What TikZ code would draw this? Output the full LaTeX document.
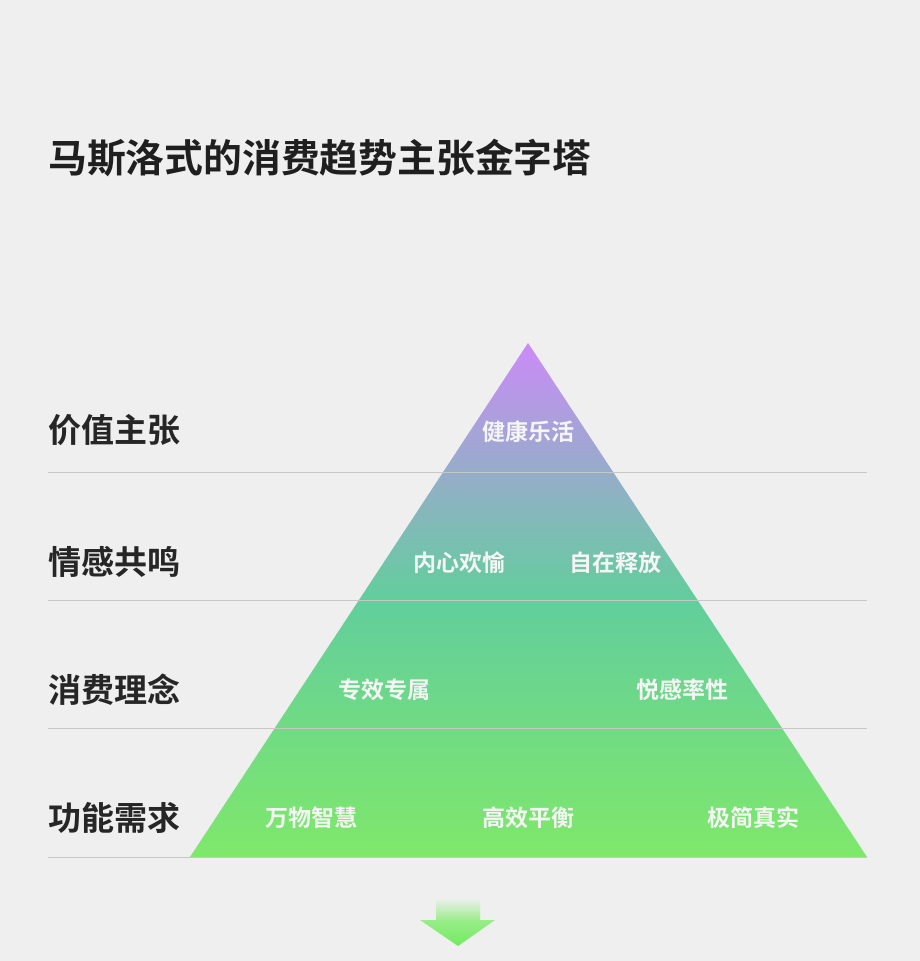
\documentclass[tikz,border=0pt]{standalone}
\usepackage{fontspec}
\setmainfont{Noto Sans CJK SC}
\newfontfamily\cjkb{Noto Sans CJK SC Bold}
\begin{document}
\begin{tikzpicture}[x=1pt,y=-1pt,
  lab/.style={anchor=west,font=\cjkb\fontsize{33}{36}\selectfont,text=black!85,inner sep=0},
  pt/.style={font=\cjkb\fontsize{23}{26}\selectfont,text=white!92!gray,inner sep=0},
  sep/.style={draw=black!22,line width=0.8}]
\definecolor{bg}{HTML}{EFEFEF}
\definecolor{ctop}{HTML}{CB8BF8}
\definecolor{cmid}{HTML}{62CE9C}
\definecolor{cbot}{HTML}{7FE86B}
\fill[bg] (0,0) rectangle (920,961);
\node[anchor=west,inner sep=0,font=\cjkb\fontsize{38.8}{42}\selectfont,text=black!88] (title) at (48,158) {马斯洛式的消费趋势主张金字塔};
\shade[top color=ctop,bottom color=cbot,middle color=cmid] (528,343) -- (867,857) -- (190,857) -- cycle;
\foreach \y in {472,600,728,857} \draw[sep] (48,\y) -- (867,\y);
\node[lab] (l1) at (48,430) {价值主张};
\node[lab] (l2) at (48,562) {情感共鸣};
\node[lab] (l3) at (48,690) {消费理念};
\node[lab] (l4) at (48,818) {功能需求};
\node[pt] (a1) at (528,432) {健康乐活};
\node[pt] (b1) at (459,563) {内心欢愉};
\node[pt] (b2) at (615,563) {自在释放};
\node[pt] (c1) at (384,690) {专效专属};
\node[pt] (c2) at (682,690) {悦感率性};
\node[pt] (d1) at (311,818) {万物智慧};
\node[pt] (d2) at (528,818) {高效平衡};
\node[pt] (d3) at (753,818) {极简真实};
\shade[top color=bg,bottom color=cbot!80] (436,898) rectangle (480,921);
\shade[top color=cbot!80!white,bottom color=cbot!90!green] (420,920) -- (495,920) -- (458,946) -- cycle;
\end{tikzpicture}
\end{document}
